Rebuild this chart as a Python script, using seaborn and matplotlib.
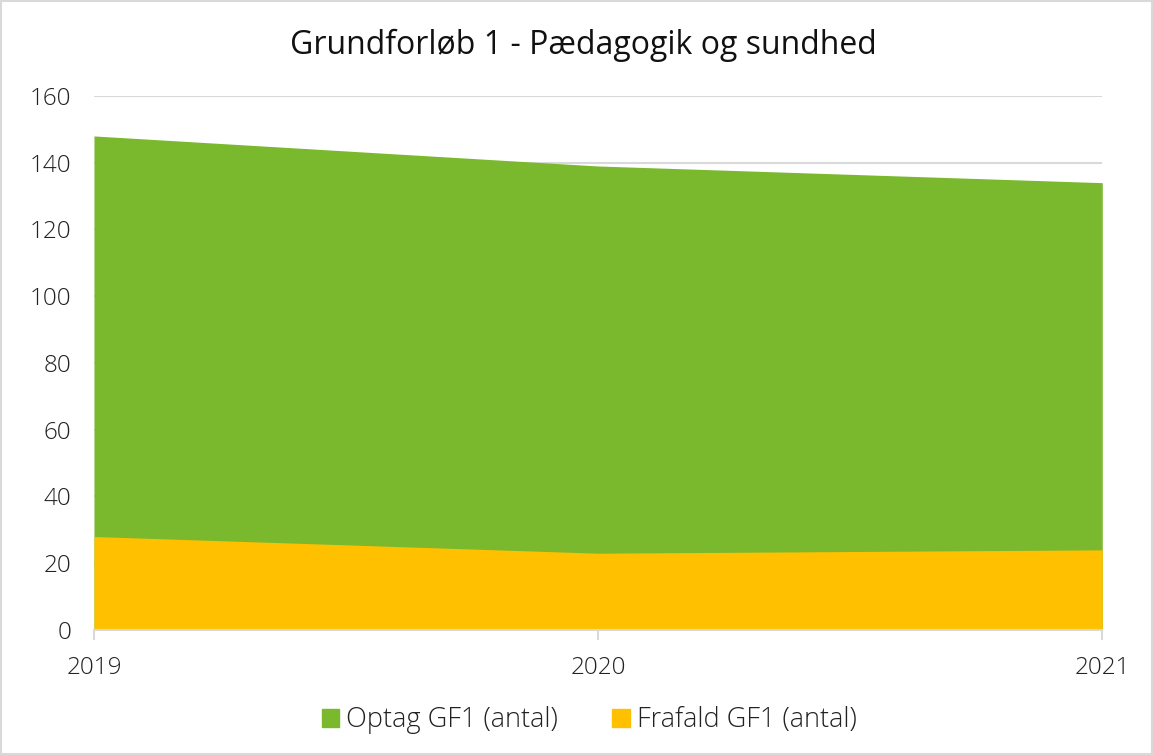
import matplotlib
matplotlib.use("Agg")
import matplotlib.pyplot as plt
import seaborn as sns
import pandas as pd
from matplotlib.patches import Patch, Rectangle

# data
years = [2019, 2020, 2021]
optag = [148, 139, 134]
frafald = [28, 23, 24]
yticks = [0, 20, 40, 60, 80, 100, 120, 140, 160]

df = pd.DataFrame({"year": years, "Optag GF1 (antal)": optag, "Frafald GF1 (antal)": frafald})

sns.set_style("white")
plt.rcParams["font.family"] = ["Open Sans", "Lato", "DejaVu Sans"]

green = "#7AB82D"
yellow = "#FFC000"

fig = plt.figure(figsize=(11.53, 7.55), dpi=100)
ax = fig.add_axes([0.0815, 0.1656, 0.8745, 0.7074])

sns.lineplot(data=df, x="year", y="Optag GF1 (antal)", ax=ax, color=green, lw=0)
ax.fill_between(df["year"], 0, df["Optag GF1 (antal)"], color=green, lw=0, zorder=2)
sns.lineplot(data=df, x="year", y="Frafald GF1 (antal)", ax=ax, color=yellow, lw=0)
ax.fill_between(df["year"], 0, df["Frafald GF1 (antal)"], color=yellow, lw=0, zorder=3)

ax.set_xlim(years[0], years[-1])
ax.set_ylim(0, 160)
ax.set_yticks(yticks)
ax.set_xticks(years)
ax.set_xticklabels([str(y) for y in years])
ax.grid(axis="y", color="#D9D9D9", lw=1.5, zorder=0)
ax.set_axisbelow(True)
for s in ["top", "right", "left"]:
    ax.spines[s].set_visible(False)
ax.spines["bottom"].set_color("#D9D9D9")
ax.spines["bottom"].set_linewidth(1.5)
ax.spines["bottom"].set_zorder(4)
ax.tick_params(axis="x", bottom=True, length=7, width=1.5, color="#D9D9D9",
               labelsize=17.5, labelcolor="#222222", pad=12)
ax.tick_params(axis="y", left=False, labelsize=17.5, labelcolor="#222222", pad=13)
for lab in ax.get_xticklabels() + ax.get_yticklabels():
    lab.set_fontweight("light")
ax.set_xlabel("")
ax.set_ylabel("")

fig.text(0.506, 0.94, "Grundforløb 1 - Pædagogik og sundhed", ha="center", va="center",
         fontsize=23, color="#111111")

handles = [Patch(color=green, label="Optag GF1 (antal)"),
           Patch(color=yellow, label="Frafald GF1 (antal)")]
leg = fig.legend(handles=handles, loc="center", bbox_to_anchor=(0.511, 0.046), ncol=2,
                 frameon=False, fontsize=19.5, handlelength=0.65, handleheight=0.65,
                 handletextpad=0.25, columnspacing=2.0, labelcolor="#222222")
for t in leg.get_texts():
    t.set_fontweight("light")

fig.patches.append(Rectangle((0.001, 0.001), 0.998, 0.998, transform=fig.transFigure,
                             fill=False, edgecolor="#D9D9D9", lw=1.5))

fig.savefig("out.png", dpi=100)
